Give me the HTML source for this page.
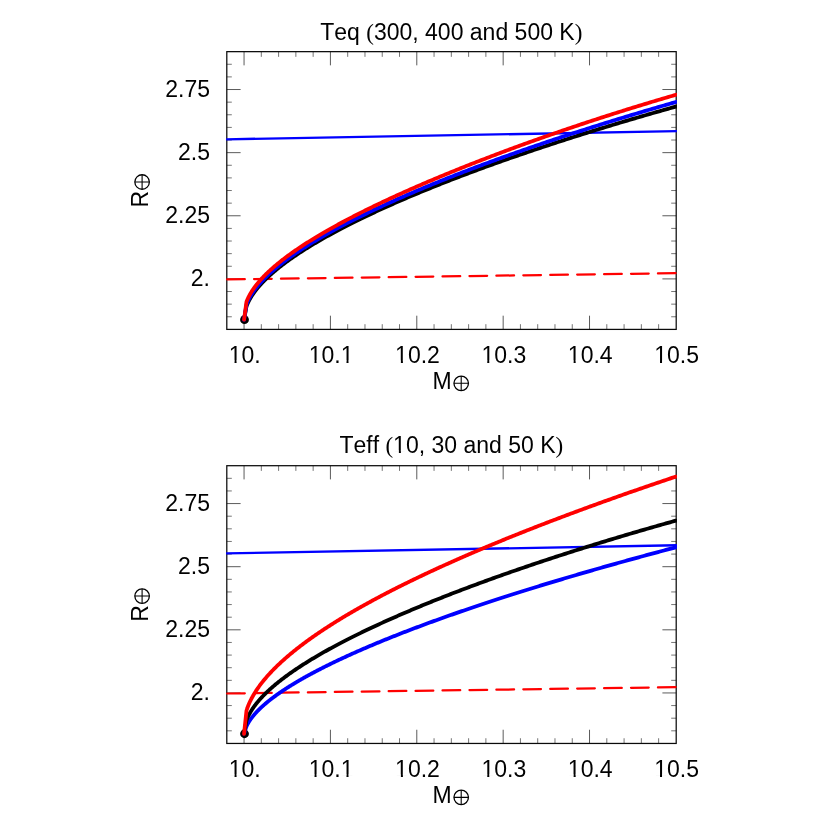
<!DOCTYPE html>
<html><head><meta charset="utf-8"><title>Chart</title>
<style>html,body{margin:0;padding:0;background:#fff;width:830px;height:830px;overflow:hidden;}svg{display:block;position:absolute;left:0;top:0;}</style></head><body>
<svg width="830" height="830" viewBox="0 0 830 830">
<rect width="830" height="830" fill="#fff"/>
<g transform="translate(0,0.00)">
<clipPath id="ca"><rect x="226.10" y="51.65" width="450.80" height="277.75"/></clipPath>
<path d="M244.05 329.40 v-13.70 M244.05 51.65 v13.70 M330.42 329.40 v-13.70 M330.42 51.65 v13.70 M416.79 329.40 v-13.70 M416.79 51.65 v13.70 M503.16 329.40 v-13.70 M503.16 51.65 v13.70 M589.53 329.40 v-13.70 M589.53 51.65 v13.70 M226.80 278.90 h13.80 M676.20 278.90 h-13.80 M226.80 215.77 h13.80 M676.20 215.77 h-13.80 M226.80 152.65 h13.80 M676.20 152.65 h-13.80 M226.80 89.52 h13.80 M676.20 89.52 h-13.80" stroke="#000" stroke-width="0.65" fill="none"/>
<path d="M261.32 329.40 v-5.20 M261.32 51.65 v5.20 M278.60 329.40 v-5.20 M278.60 51.65 v5.20 M295.87 329.40 v-5.20 M295.87 51.65 v5.20 M313.15 329.40 v-5.20 M313.15 51.65 v5.20 M347.69 329.40 v-5.20 M347.69 51.65 v5.20 M364.97 329.40 v-5.20 M364.97 51.65 v5.20 M382.24 329.40 v-5.20 M382.24 51.65 v5.20 M399.52 329.40 v-5.20 M399.52 51.65 v5.20 M434.06 329.40 v-5.20 M434.06 51.65 v5.20 M451.34 329.40 v-5.20 M451.34 51.65 v5.20 M468.61 329.40 v-5.20 M468.61 51.65 v5.20 M485.89 329.40 v-5.20 M485.89 51.65 v5.20 M520.43 329.40 v-5.20 M520.43 51.65 v5.20 M537.71 329.40 v-5.20 M537.71 51.65 v5.20 M554.98 329.40 v-5.20 M554.98 51.65 v5.20 M572.26 329.40 v-5.20 M572.26 51.65 v5.20 M606.80 329.40 v-5.20 M606.80 51.65 v5.20 M624.08 329.40 v-5.20 M624.08 51.65 v5.20 M641.35 329.40 v-5.20 M641.35 51.65 v5.20 M658.63 329.40 v-5.20 M658.63 51.65 v5.20 M226.80 316.77 h5.00 M676.20 316.77 h-5.00 M226.80 304.15 h5.00 M676.20 304.15 h-5.00 M226.80 291.52 h5.00 M676.20 291.52 h-5.00 M226.80 266.28 h5.00 M676.20 266.28 h-5.00 M226.80 253.65 h5.00 M676.20 253.65 h-5.00 M226.80 241.03 h5.00 M676.20 241.03 h-5.00 M226.80 228.40 h5.00 M676.20 228.40 h-5.00 M226.80 203.15 h5.00 M676.20 203.15 h-5.00 M226.80 190.52 h5.00 M676.20 190.52 h-5.00 M226.80 177.90 h5.00 M676.20 177.90 h-5.00 M226.80 165.27 h5.00 M676.20 165.27 h-5.00 M226.80 140.03 h5.00 M676.20 140.03 h-5.00 M226.80 127.40 h5.00 M676.20 127.40 h-5.00 M226.80 114.77 h5.00 M676.20 114.77 h-5.00 M226.80 102.15 h5.00 M676.20 102.15 h-5.00 M226.80 76.90 h5.00 M676.20 76.90 h-5.00 M226.80 64.27 h5.00 M676.20 64.27 h-5.00" stroke="#000" stroke-width="0.55" fill="none"/>
<rect x="226.80" y="51.65" width="449.40" height="277.75" fill="none" stroke="#0a0a0a" stroke-width="1.25"/>
<g clip-path="url(#ca)" fill="none">
<line x1="226.00" y1="139.30" x2="677.20" y2="131.20" stroke="#0000ff" stroke-width="2.3"/>
<line x1="227.10" y1="279.45" x2="677.20" y2="273.15" stroke="#ff0000" stroke-width="2.25" stroke-linecap="round" stroke-dasharray="17.7 9.23" stroke-dashoffset="0"/>
<circle cx="244.50" cy="319.70" r="4.4" fill="#000"/>
<polyline points="244.05,319.70 246.47,306.37 246.62,305.97 246.78,305.56 246.94,305.16 247.10,304.75 247.28,304.34 247.45,303.93 247.63,303.52 247.82,303.11 248.01,302.70 248.20,302.29 248.40,301.88 248.60,301.47 248.81,301.06 249.02,300.65 249.24,300.23 249.46,299.82 249.69,299.41 249.92,298.99 250.15,298.58 250.39,298.16 250.64,297.75 250.89,297.33 251.14,296.91 251.40,296.50 251.67,296.08 251.93,295.66 252.21,295.24 252.48,294.82 252.77,294.40 253.05,293.98 253.35,293.56 253.64,293.14 253.94,292.72 254.25,292.29 254.56,291.87 254.87,291.45 255.19,291.02 255.52,290.60 255.84,290.17 256.18,289.75 256.52,289.32 256.86,288.89 257.21,288.47 257.56,288.04 257.91,287.61 258.28,287.18 258.64,286.75 259.01,286.32 259.39,285.89 259.77,285.46 260.15,285.03 260.54,284.60 260.93,284.16 261.33,283.73 261.73,283.30 262.14,282.86 262.55,282.43 262.97,281.99 263.39,281.56 263.82,281.12 264.25,280.68 264.69,280.24 265.13,279.81 265.57,279.37 266.02,278.93 266.47,278.49 266.93,278.05 267.40,277.61 267.86,277.17 268.34,276.73 268.81,276.28 269.30,275.84 269.78,275.40 270.27,274.95 270.77,274.51 271.27,274.06 271.77,273.62 272.28,273.17 272.80,272.72 273.32,272.28 273.84,271.83 274.37,271.38 274.90,270.93 275.44,270.48 275.98,270.03 276.53,269.58 277.08,269.13 277.64,268.68 278.20,268.23 278.76,267.77 279.33,267.32 279.91,266.87 280.49,266.41 281.07,265.96 281.66,265.50 282.25,265.05 282.85,264.59 283.45,264.13 284.06,263.68 284.67,263.22 285.29,262.76 285.91,262.30 286.54,261.84 287.17,261.38 287.80,260.92 288.44,260.46 289.09,260.00 289.74,259.53 290.39,259.07 291.05,258.61 291.71,258.14 292.38,257.68 293.05,257.21 293.73,256.75 294.41,256.28 295.10,255.81 295.79,255.35 296.48,254.88 297.18,254.41 297.89,253.94 298.60,253.47 299.31,253.00 300.03,252.53 300.75,252.06 301.48,251.59 302.21,251.11 302.95,250.64 303.69,250.17 304.44,249.69 305.19,249.22 305.95,248.75 306.71,248.27 307.47,247.79 308.24,247.32 309.02,246.84 309.79,246.36 310.58,245.88 311.37,245.41 312.16,244.93 312.96,244.45 313.76,243.97 314.57,243.49 315.38,243.00 316.19,242.52 317.02,242.04 317.84,241.56 318.67,241.07 319.51,240.59 320.35,240.11 321.19,239.62 322.04,239.13 322.89,238.65 323.75,238.16 324.61,237.67 325.48,237.19 326.35,236.70 327.23,236.21 328.11,235.72 328.99,235.23 329.89,234.74 330.78,234.25 331.68,233.76 332.58,233.27 333.49,232.77 334.41,232.28 335.33,231.79 336.25,231.29 337.18,230.80 338.11,230.31 339.05,229.81 339.99,229.31 340.93,228.82 341.88,228.32 342.84,227.82 343.80,227.33 344.77,226.83 345.73,226.33 346.71,225.83 347.69,225.33 348.67,224.83 349.66,224.33 350.65,223.83 351.65,223.32 352.65,222.82 353.66,222.32 354.67,221.82 355.68,221.31 356.71,220.81 357.73,220.30 358.76,219.80 359.79,219.29 360.83,218.79 361.88,218.28 362.93,217.77 363.98,217.26 365.04,216.76 366.10,216.25 367.17,215.74 368.24,215.23 369.31,214.72 370.40,214.21 371.48,213.70 372.57,213.19 373.67,212.67 374.77,212.16 375.87,211.65 376.98,211.13 378.09,210.62 379.21,210.11 380.33,209.59 381.46,209.08 382.59,208.56 383.73,208.05 384.87,207.53 386.02,207.01 387.17,206.49 388.32,205.98 389.48,205.46 390.65,204.94 391.81,204.42 392.99,203.90 394.17,203.38 395.35,202.86 396.54,202.34 397.73,201.82 398.93,201.30 400.13,200.77 401.34,200.25 402.55,199.73 403.76,199.20 404.98,198.68 406.21,198.16 407.44,197.63 408.67,197.11 409.91,196.58 411.15,196.05 412.40,195.53 413.65,195.00 414.91,194.47 416.17,193.95 417.44,193.42 418.71,192.89 419.99,192.36 421.27,191.83 422.55,191.30 423.84,190.77 425.14,190.24 426.44,189.71 427.74,189.18 429.05,188.65 430.36,188.12 431.68,187.58 433.00,187.05 434.33,186.52 435.66,185.98 437.00,185.45 438.34,184.92 439.68,184.38 441.03,183.85 442.39,183.31 443.75,182.78 445.11,182.24 446.48,181.70 447.85,181.17 449.23,180.63 450.62,180.09 452.00,179.55 453.39,179.02 454.79,178.48 456.19,177.94 457.60,177.40 459.01,176.86 460.42,176.32 461.84,175.78 463.27,175.24 464.70,174.70 466.13,174.16 467.57,173.62 469.01,173.07 470.46,172.53 471.91,171.99 473.37,171.45 474.83,170.90 476.30,170.36 477.77,169.82 479.25,169.27 480.73,168.73 482.21,168.18 483.70,167.64 485.19,167.09 486.69,166.55 488.20,166.00 489.70,165.46 491.22,164.91 492.73,164.36 494.26,163.82 495.78,163.27 497.31,162.72 498.85,162.18 500.39,161.63 501.94,161.08 503.49,160.53 505.04,159.98 506.60,159.43 508.16,158.88 509.73,158.33 511.31,157.78 512.88,157.23 514.47,156.68 516.05,156.13 517.64,155.58 519.24,155.03 520.84,154.48 522.45,153.93 524.06,153.38 525.67,152.83 527.29,152.28 528.92,151.72 530.55,151.17 532.18,150.62 533.82,150.07 535.46,149.51 537.11,148.96 538.76,148.41 540.42,147.85 542.08,147.30 543.74,146.74 545.41,146.19 547.09,145.64 548.77,145.08 550.45,144.53 552.14,143.97 553.84,143.42 555.54,142.86 557.24,142.31 558.95,141.75 560.66,141.19 562.38,140.64 564.10,140.08 565.82,139.53 567.56,138.97 569.29,138.41 571.03,137.86 572.78,137.30 574.53,136.74 576.28,136.19 578.04,135.63 579.80,135.07 581.57,134.52 583.34,133.96 585.12,133.40 586.90,132.84 588.69,132.29 590.48,131.73 592.28,131.17 594.08,130.61 595.88,130.05 597.69,129.50 599.51,128.94 601.33,128.38 603.15,127.82 604.98,127.26 606.81,126.70 608.65,126.14 610.49,125.59 612.34,125.03 614.19,124.47 616.05,123.91 617.91,123.35 619.78,122.79 621.65,122.23 623.52,121.67 625.40,121.12 627.28,120.56 629.17,120.00 631.07,119.44 632.96,118.88 634.87,118.32 636.78,117.76 638.69,117.20 640.60,116.64 642.53,116.08 644.45,115.52 646.38,114.97 648.32,114.41 650.26,113.85 652.20,113.29 654.15,112.73 656.11,112.17 658.06,111.61 660.03,111.05 662.00,110.49 663.97,109.93 665.94,109.38 667.93,108.82 669.91,108.26 671.90,107.70 673.90,107.14 675.90,106.58" stroke="#000000" stroke-width="3.8" stroke-linejoin="round" stroke-linecap="round"/>
<polyline points="244.05,319.70 246.47,304.59 246.62,304.18 246.78,303.78 246.94,303.37 247.10,302.96 247.28,302.55 247.45,302.14 247.63,301.73 247.82,301.32 248.01,300.91 248.20,300.50 248.40,300.09 248.60,299.67 248.81,299.26 249.02,298.85 249.24,298.43 249.46,298.02 249.69,297.60 249.92,297.19 250.15,296.77 250.39,296.35 250.64,295.94 250.89,295.52 251.14,295.10 251.40,294.68 251.67,294.26 251.93,293.84 252.21,293.42 252.48,293.00 252.77,292.58 253.05,292.15 253.35,291.73 253.64,291.31 253.94,290.88 254.25,290.46 254.56,290.03 254.87,289.61 255.19,289.18 255.52,288.76 255.84,288.33 256.18,287.90 256.52,287.47 256.86,287.04 257.21,286.61 257.56,286.18 257.91,285.75 258.28,285.32 258.64,284.89 259.01,284.46 259.39,284.02 259.77,283.59 260.15,283.16 260.54,282.72 260.93,282.29 261.33,281.85 261.73,281.41 262.14,280.98 262.55,280.54 262.97,280.10 263.39,279.66 263.82,279.22 264.25,278.78 264.69,278.34 265.13,277.90 265.57,277.46 266.02,277.02 266.47,276.58 266.93,276.13 267.40,275.69 267.86,275.25 268.34,274.80 268.81,274.36 269.30,273.91 269.78,273.46 270.27,273.02 270.77,272.57 271.27,272.12 271.77,271.67 272.28,271.22 272.80,270.77 273.32,270.32 273.84,269.87 274.37,269.42 274.90,268.97 275.44,268.51 275.98,268.06 276.53,267.61 277.08,267.15 277.64,266.70 278.20,266.24 278.76,265.78 279.33,265.33 279.91,264.87 280.49,264.41 281.07,263.95 281.66,263.49 282.25,263.03 282.85,262.57 283.45,262.11 284.06,261.65 284.67,261.19 285.29,260.73 285.91,260.26 286.54,259.80 287.17,259.34 287.80,258.87 288.44,258.40 289.09,257.94 289.74,257.47 290.39,257.00 291.05,256.54 291.71,256.07 292.38,255.60 293.05,255.13 293.73,254.66 294.41,254.19 295.10,253.72 295.79,253.25 296.48,252.77 297.18,252.30 297.89,251.83 298.60,251.35 299.31,250.88 300.03,250.40 300.75,249.93 301.48,249.45 302.21,248.97 302.95,248.50 303.69,248.02 304.44,247.54 305.19,247.06 305.95,246.58 306.71,246.10 307.47,245.62 308.24,245.14 309.02,244.66 309.79,244.17 310.58,243.69 311.37,243.21 312.16,242.72 312.96,242.24 313.76,241.75 314.57,241.26 315.38,240.78 316.19,240.29 317.02,239.80 317.84,239.32 318.67,238.83 319.51,238.34 320.35,237.85 321.19,237.36 322.04,236.87 322.89,236.37 323.75,235.88 324.61,235.39 325.48,234.90 326.35,234.40 327.23,233.91 328.11,233.41 328.99,232.92 329.89,232.42 330.78,231.92 331.68,231.43 332.58,230.93 333.49,230.43 334.41,229.93 335.33,229.43 336.25,228.93 337.18,228.43 338.11,227.93 339.05,227.43 339.99,226.93 340.93,226.43 341.88,225.92 342.84,225.42 343.80,224.92 344.77,224.41 345.73,223.91 346.71,223.40 347.69,222.90 348.67,222.39 349.66,221.88 350.65,221.37 351.65,220.87 352.65,220.36 353.66,219.85 354.67,219.34 355.68,218.83 356.71,218.32 357.73,217.80 358.76,217.29 359.79,216.78 360.83,216.27 361.88,215.75 362.93,215.24 363.98,214.73 365.04,214.21 366.10,213.69 367.17,213.18 368.24,212.66 369.31,212.15 370.40,211.63 371.48,211.11 372.57,210.59 373.67,210.07 374.77,209.55 375.87,209.03 376.98,208.51 378.09,207.99 379.21,207.47 380.33,206.95 381.46,206.43 382.59,205.90 383.73,205.38 384.87,204.86 386.02,204.33 387.17,203.81 388.32,203.28 389.48,202.76 390.65,202.23 391.81,201.70 392.99,201.18 394.17,200.65 395.35,200.12 396.54,199.59 397.73,199.06 398.93,198.53 400.13,198.00 401.34,197.47 402.55,196.94 403.76,196.41 404.98,195.88 406.21,195.35 407.44,194.81 408.67,194.28 409.91,193.75 411.15,193.21 412.40,192.68 413.65,192.14 414.91,191.61 416.17,191.07 417.44,190.54 418.71,190.00 419.99,189.46 421.27,188.92 422.55,188.39 423.84,187.85 425.14,187.31 426.44,186.77 427.74,186.23 429.05,185.69 430.36,185.15 431.68,184.61 433.00,184.07 434.33,183.53 435.66,182.98 437.00,182.44 438.34,181.90 439.68,181.36 441.03,180.81 442.39,180.27 443.75,179.72 445.11,179.18 446.48,178.63 447.85,178.09 449.23,177.54 450.62,177.00 452.00,176.45 453.39,175.90 454.79,175.35 456.19,174.81 457.60,174.26 459.01,173.71 460.42,173.16 461.84,172.61 463.27,172.06 464.70,171.51 466.13,170.96 467.57,170.41 469.01,169.86 470.46,169.31 471.91,168.76 473.37,168.20 474.83,167.65 476.30,167.10 477.77,166.55 479.25,165.99 480.73,165.44 482.21,164.88 483.70,164.33 485.19,163.78 486.69,163.22 488.20,162.67 489.70,162.11 491.22,161.55 492.73,161.00 494.26,160.44 495.78,159.88 497.31,159.33 498.85,158.77 500.39,158.21 501.94,157.65 503.49,157.09 505.04,156.54 506.60,155.98 508.16,155.42 509.73,154.86 511.31,154.30 512.88,153.74 514.47,153.18 516.05,152.62 517.64,152.06 519.24,151.50 520.84,150.93 522.45,150.37 524.06,149.81 525.67,149.25 527.29,148.69 528.92,148.12 530.55,147.56 532.18,147.00 533.82,146.43 535.46,145.87 537.11,145.31 538.76,144.74 540.42,144.18 542.08,143.61 543.74,143.05 545.41,142.48 547.09,141.92 548.77,141.35 550.45,140.79 552.14,140.22 553.84,139.66 555.54,139.09 557.24,138.52 558.95,137.96 560.66,137.39 562.38,136.82 564.10,136.26 565.82,135.69 567.56,135.12 569.29,134.55 571.03,133.99 572.78,133.42 574.53,132.85 576.28,132.28 578.04,131.71 579.80,131.15 581.57,130.58 583.34,130.01 585.12,129.44 586.90,128.87 588.69,128.30 590.48,127.73 592.28,127.16 594.08,126.59 595.88,126.02 597.69,125.45 599.51,124.88 601.33,124.31 603.15,123.74 604.98,123.17 606.81,122.60 608.65,122.03 610.49,121.46 612.34,120.89 614.19,120.32 616.05,119.75 617.91,119.18 619.78,118.61 621.65,118.04 623.52,117.47 625.40,116.89 627.28,116.32 629.17,115.75 631.07,115.18 632.96,114.61 634.87,114.04 636.78,113.47 638.69,112.90 640.60,112.32 642.53,111.75 644.45,111.18 646.38,110.61 648.32,110.04 650.26,109.47 652.20,108.90 654.15,108.32 656.11,107.75 658.06,107.18 660.03,106.61 662.00,106.04 663.97,105.47 665.94,104.89 667.93,104.32 669.91,103.75 671.90,103.18 673.90,102.61 675.90,102.04" stroke="#0000ff" stroke-width="3.8" stroke-linejoin="round" stroke-linecap="round"/>
<polyline points="244.05,319.70 246.47,301.86 246.62,301.45 246.78,301.04 246.94,300.63 247.10,300.23 247.28,299.82 247.45,299.41 247.63,299.00 247.82,298.59 248.01,298.18 248.20,297.76 248.40,297.35 248.60,296.94 248.81,296.52 249.02,296.11 249.24,295.69 249.46,295.28 249.69,294.86 249.92,294.45 250.15,294.03 250.39,293.61 250.64,293.19 250.89,292.77 251.14,292.35 251.40,291.93 251.67,291.51 251.93,291.09 252.21,290.67 252.48,290.24 252.77,289.82 253.05,289.40 253.35,288.97 253.64,288.55 253.94,288.12 254.25,287.69 254.56,287.27 254.87,286.84 255.19,286.41 255.52,285.98 255.84,285.55 256.18,285.12 256.52,284.69 256.86,284.26 257.21,283.83 257.56,283.40 257.91,282.96 258.28,282.53 258.64,282.09 259.01,281.66 259.39,281.22 259.77,280.79 260.15,280.35 260.54,279.91 260.93,279.48 261.33,279.04 261.73,278.60 262.14,278.16 262.55,277.72 262.97,277.28 263.39,276.84 263.82,276.39 264.25,275.95 264.69,275.51 265.13,275.06 265.57,274.62 266.02,274.17 266.47,273.73 266.93,273.28 267.40,272.84 267.86,272.39 268.34,271.94 268.81,271.49 269.30,271.04 269.78,270.59 270.27,270.14 270.77,269.69 271.27,269.24 271.77,268.79 272.28,268.33 272.80,267.88 273.32,267.42 273.84,266.97 274.37,266.51 274.90,266.06 275.44,265.60 275.98,265.14 276.53,264.69 277.08,264.23 277.64,263.77 278.20,263.31 278.76,262.85 279.33,262.39 279.91,261.93 280.49,261.46 281.07,261.00 281.66,260.54 282.25,260.07 282.85,259.61 283.45,259.14 284.06,258.68 284.67,258.21 285.29,257.74 285.91,257.28 286.54,256.81 287.17,256.34 287.80,255.87 288.44,255.40 289.09,254.93 289.74,254.46 290.39,253.99 291.05,253.51 291.71,253.04 292.38,252.57 293.05,252.09 293.73,251.62 294.41,251.14 295.10,250.66 295.79,250.19 296.48,249.71 297.18,249.23 297.89,248.75 298.60,248.27 299.31,247.79 300.03,247.31 300.75,246.83 301.48,246.35 302.21,245.87 302.95,245.38 303.69,244.90 304.44,244.42 305.19,243.93 305.95,243.45 306.71,242.96 307.47,242.47 308.24,241.99 309.02,241.50 309.79,241.01 310.58,240.52 311.37,240.03 312.16,239.54 312.96,239.05 313.76,238.56 314.57,238.06 315.38,237.57 316.19,237.08 317.02,236.58 317.84,236.09 318.67,235.59 319.51,235.10 320.35,234.60 321.19,234.10 322.04,233.61 322.89,233.11 323.75,232.61 324.61,232.11 325.48,231.61 326.35,231.11 327.23,230.60 328.11,230.10 328.99,229.60 329.89,229.10 330.78,228.59 331.68,228.09 332.58,227.58 333.49,227.08 334.41,226.57 335.33,226.06 336.25,225.55 337.18,225.05 338.11,224.54 339.05,224.03 339.99,223.52 340.93,223.01 341.88,222.49 342.84,221.98 343.80,221.47 344.77,220.96 345.73,220.44 346.71,219.93 347.69,219.41 348.67,218.90 349.66,218.38 350.65,217.86 351.65,217.35 352.65,216.83 353.66,216.31 354.67,215.79 355.68,215.27 356.71,214.75 357.73,214.23 358.76,213.70 359.79,213.18 360.83,212.66 361.88,212.13 362.93,211.61 363.98,211.09 365.04,210.56 366.10,210.03 367.17,209.51 368.24,208.98 369.31,208.45 370.40,207.92 371.48,207.39 372.57,206.86 373.67,206.33 374.77,205.80 375.87,205.27 376.98,204.74 378.09,204.21 379.21,203.67 380.33,203.14 381.46,202.60 382.59,202.07 383.73,201.53 384.87,201.00 386.02,200.46 387.17,199.92 388.32,199.38 389.48,198.85 390.65,198.31 391.81,197.77 392.99,197.23 394.17,196.69 395.35,196.14 396.54,195.60 397.73,195.06 398.93,194.52 400.13,193.97 401.34,193.43 402.55,192.88 403.76,192.34 404.98,191.79 406.21,191.24 407.44,190.70 408.67,190.15 409.91,189.60 411.15,189.05 412.40,188.50 413.65,187.95 414.91,187.40 416.17,186.85 417.44,186.30 418.71,185.75 419.99,185.19 421.27,184.64 422.55,184.09 423.84,183.53 425.14,182.98 426.44,182.42 427.74,181.87 429.05,181.31 430.36,180.75 431.68,180.19 433.00,179.64 434.33,179.08 435.66,178.52 437.00,177.96 438.34,177.40 439.68,176.84 441.03,176.28 442.39,175.72 443.75,175.15 445.11,174.59 446.48,174.03 447.85,173.46 449.23,172.90 450.62,172.34 452.00,171.77 453.39,171.20 454.79,170.64 456.19,170.07 457.60,169.50 459.01,168.94 460.42,168.37 461.84,167.80 463.27,167.23 464.70,166.66 466.13,166.09 467.57,165.52 469.01,164.95 470.46,164.38 471.91,163.81 473.37,163.24 474.83,162.67 476.30,162.09 477.77,161.52 479.25,160.95 480.73,160.37 482.21,159.80 483.70,159.22 485.19,158.65 486.69,158.07 488.20,157.50 489.70,156.92 491.22,156.34 492.73,155.76 494.26,155.19 495.78,154.61 497.31,154.03 498.85,153.45 500.39,152.87 501.94,152.29 503.49,151.71 505.04,151.13 506.60,150.55 508.16,149.97 509.73,149.39 511.31,148.81 512.88,148.23 514.47,147.65 516.05,147.06 517.64,146.48 519.24,145.90 520.84,145.31 522.45,144.73 524.06,144.15 525.67,143.56 527.29,142.98 528.92,142.39 530.55,141.81 532.18,141.22 533.82,140.64 535.46,140.05 537.11,139.47 538.76,138.88 540.42,138.29 542.08,137.71 543.74,137.12 545.41,136.53 547.09,135.95 548.77,135.36 550.45,134.77 552.14,134.18 553.84,133.60 555.54,133.01 557.24,132.42 558.95,131.83 560.66,131.24 562.38,130.65 564.10,130.06 565.82,129.47 567.56,128.89 569.29,128.30 571.03,127.71 572.78,127.12 574.53,126.53 576.28,125.94 578.04,125.35 579.80,124.76 581.57,124.17 583.34,123.58 585.12,122.99 586.90,122.40 588.69,121.81 590.48,121.22 592.28,120.63 594.08,120.04 595.88,119.45 597.69,118.86 599.51,118.27 601.33,117.68 603.15,117.09 604.98,116.50 606.81,115.91 608.65,115.32 610.49,114.73 612.34,114.14 614.19,113.55 616.05,112.96 617.91,112.37 619.78,111.78 621.65,111.20 623.52,110.61 625.40,110.02 627.28,109.43 629.17,108.84 631.07,108.25 632.96,107.67 634.87,107.08 636.78,106.49 638.69,105.90 640.60,105.32 642.53,104.73 644.45,104.14 646.38,103.56 648.32,102.97 650.26,102.38 652.20,101.80 654.15,101.21 656.11,100.63 658.06,100.04 660.03,99.46 662.00,98.88 663.97,98.29 665.94,97.71 667.93,97.13 669.91,96.55 671.90,95.96 673.90,95.38 675.90,94.80" stroke="#ff0000" stroke-width="3.8" stroke-linejoin="round" stroke-linecap="round"/>
</g>
<g opacity="0.999" style="font-kerning:none" font-family="'Liberation Sans', sans-serif" font-size="23" fill="#000">
<text x="210.00" y="96.62" text-anchor="end">2.75</text>
<text x="210.00" y="159.75" text-anchor="end">2.5</text>
<text x="210.00" y="222.87" text-anchor="end">2.25</text>
<text x="210.00" y="286.00" text-anchor="end">2.</text>
<text x="244.75" y="363.30" text-anchor="middle">10.</text>
<text x="331.12" y="363.30" text-anchor="middle">10.1</text>
<text x="417.49" y="363.30" text-anchor="middle">10.2</text>
<text x="503.86" y="363.30" text-anchor="middle">10.3</text>
<text x="590.23" y="363.30" text-anchor="middle">10.4</text>
<text x="676.60" y="363.30" text-anchor="middle">10.5</text>
<text x="451.30" y="39.60" text-anchor="middle">Teq <tspan font-family="'Liberation Serif', serif">(</tspan>300, 400 and 500 K<tspan font-family="'Liberation Serif', serif">)</tspan></text>
<text x="432.60" y="389.20">M</text>
<g stroke="#000" fill="none"><circle cx="461.20" cy="383.30" r="7.25" stroke-width="1.3"/><path d="M453.95 383.30 h14.50 M461.20 376.05 v14.50" stroke-width="1.1"/></g>
<text transform="translate(148.00,207.60) rotate(-90)">R</text>
<g stroke="#000" fill="none"><circle cx="142.10" cy="182.00" r="7.25" stroke-width="1.3"/><path d="M134.85 182.00 h14.50 M142.10 174.75 v14.50" stroke-width="1.1"/></g>
</g>
<path d="M229.31 360.58H234.54V364.30H229.31Z M236.57 360.58H241.63V364.30H236.57Z" fill="#fff"/><path d="M309.29 360.58H314.52V364.30H309.29Z M316.55 360.58H321.61V364.30H316.55Z" fill="#fff"/><path d="M341.26 360.58H346.49V364.30H341.26Z M348.52 360.58H353.57V364.30H348.52Z" fill="#fff"/><path d="M395.66 360.58H400.89V364.30H395.66Z M402.92 360.58H407.98V364.30H402.92Z" fill="#fff"/><path d="M482.03 360.58H487.26V364.30H482.03Z M489.29 360.58H494.35V364.30H489.29Z" fill="#fff"/><path d="M568.40 360.58H573.63V364.30H568.40Z M575.66 360.58H580.72V364.30H575.66Z" fill="#fff"/><path d="M654.77 360.58H660.00V364.30H654.77Z M662.03 360.58H667.09V364.30H662.03Z" fill="#fff"/>
</g>
<g transform="translate(0,414.05)">
<clipPath id="cb"><rect x="226.10" y="51.65" width="450.80" height="277.75"/></clipPath>
<path d="M244.05 329.40 v-13.70 M244.05 51.65 v13.70 M330.42 329.40 v-13.70 M330.42 51.65 v13.70 M416.79 329.40 v-13.70 M416.79 51.65 v13.70 M503.16 329.40 v-13.70 M503.16 51.65 v13.70 M589.53 329.40 v-13.70 M589.53 51.65 v13.70 M226.80 278.90 h13.80 M676.20 278.90 h-13.80 M226.80 215.77 h13.80 M676.20 215.77 h-13.80 M226.80 152.65 h13.80 M676.20 152.65 h-13.80 M226.80 89.52 h13.80 M676.20 89.52 h-13.80" stroke="#000" stroke-width="0.65" fill="none"/>
<path d="M261.32 329.40 v-5.20 M261.32 51.65 v5.20 M278.60 329.40 v-5.20 M278.60 51.65 v5.20 M295.87 329.40 v-5.20 M295.87 51.65 v5.20 M313.15 329.40 v-5.20 M313.15 51.65 v5.20 M347.69 329.40 v-5.20 M347.69 51.65 v5.20 M364.97 329.40 v-5.20 M364.97 51.65 v5.20 M382.24 329.40 v-5.20 M382.24 51.65 v5.20 M399.52 329.40 v-5.20 M399.52 51.65 v5.20 M434.06 329.40 v-5.20 M434.06 51.65 v5.20 M451.34 329.40 v-5.20 M451.34 51.65 v5.20 M468.61 329.40 v-5.20 M468.61 51.65 v5.20 M485.89 329.40 v-5.20 M485.89 51.65 v5.20 M520.43 329.40 v-5.20 M520.43 51.65 v5.20 M537.71 329.40 v-5.20 M537.71 51.65 v5.20 M554.98 329.40 v-5.20 M554.98 51.65 v5.20 M572.26 329.40 v-5.20 M572.26 51.65 v5.20 M606.80 329.40 v-5.20 M606.80 51.65 v5.20 M624.08 329.40 v-5.20 M624.08 51.65 v5.20 M641.35 329.40 v-5.20 M641.35 51.65 v5.20 M658.63 329.40 v-5.20 M658.63 51.65 v5.20 M226.80 316.77 h5.00 M676.20 316.77 h-5.00 M226.80 304.15 h5.00 M676.20 304.15 h-5.00 M226.80 291.52 h5.00 M676.20 291.52 h-5.00 M226.80 266.28 h5.00 M676.20 266.28 h-5.00 M226.80 253.65 h5.00 M676.20 253.65 h-5.00 M226.80 241.03 h5.00 M676.20 241.03 h-5.00 M226.80 228.40 h5.00 M676.20 228.40 h-5.00 M226.80 203.15 h5.00 M676.20 203.15 h-5.00 M226.80 190.52 h5.00 M676.20 190.52 h-5.00 M226.80 177.90 h5.00 M676.20 177.90 h-5.00 M226.80 165.27 h5.00 M676.20 165.27 h-5.00 M226.80 140.03 h5.00 M676.20 140.03 h-5.00 M226.80 127.40 h5.00 M676.20 127.40 h-5.00 M226.80 114.77 h5.00 M676.20 114.77 h-5.00 M226.80 102.15 h5.00 M676.20 102.15 h-5.00 M226.80 76.90 h5.00 M676.20 76.90 h-5.00 M226.80 64.27 h5.00 M676.20 64.27 h-5.00" stroke="#000" stroke-width="0.55" fill="none"/>
<rect x="226.80" y="51.65" width="449.40" height="277.75" fill="none" stroke="#0a0a0a" stroke-width="1.25"/>
<g clip-path="url(#cb)" fill="none">
<line x1="226.00" y1="139.30" x2="677.20" y2="131.20" stroke="#0000ff" stroke-width="2.3"/>
<line x1="227.10" y1="279.45" x2="677.20" y2="273.15" stroke="#ff0000" stroke-width="2.25" stroke-linecap="round" stroke-dasharray="17.7 9.23" stroke-dashoffset="0"/>
<circle cx="244.50" cy="319.70" r="4.4" fill="#000"/>
<polyline points="244.05,319.70 246.47,312.39 246.62,312.06 246.78,311.72 246.94,311.38 247.10,311.05 247.28,310.71 247.45,310.37 247.63,310.03 247.82,309.69 248.01,309.35 248.20,309.01 248.40,308.67 248.60,308.33 248.81,307.98 249.02,307.64 249.24,307.29 249.46,306.95 249.69,306.60 249.92,306.25 250.15,305.91 250.39,305.56 250.64,305.21 250.89,304.86 251.14,304.51 251.40,304.15 251.67,303.80 251.93,303.45 252.21,303.10 252.48,302.74 252.77,302.39 253.05,302.03 253.35,301.67 253.64,301.32 253.94,300.96 254.25,300.60 254.56,300.24 254.87,299.88 255.19,299.52 255.52,299.16 255.84,298.79 256.18,298.43 256.52,298.07 256.86,297.70 257.21,297.34 257.56,296.97 257.91,296.61 258.28,296.24 258.64,295.87 259.01,295.50 259.39,295.13 259.77,294.76 260.15,294.39 260.54,294.02 260.93,293.65 261.33,293.28 261.73,292.90 262.14,292.53 262.55,292.15 262.97,291.78 263.39,291.40 263.82,291.03 264.25,290.65 264.69,290.27 265.13,289.89 265.57,289.51 266.02,289.13 266.47,288.75 266.93,288.37 267.40,287.99 267.86,287.61 268.34,287.22 268.81,286.84 269.30,286.45 269.78,286.07 270.27,285.68 270.77,285.30 271.27,284.91 271.77,284.52 272.28,284.13 272.80,283.74 273.32,283.35 273.84,282.96 274.37,282.57 274.90,282.18 275.44,281.79 275.98,281.39 276.53,281.00 277.08,280.60 277.64,280.21 278.20,279.81 278.76,279.42 279.33,279.02 279.91,278.62 280.49,278.22 281.07,277.83 281.66,277.43 282.25,277.03 282.85,276.63 283.45,276.22 284.06,275.82 284.67,275.42 285.29,275.02 285.91,274.61 286.54,274.21 287.17,273.80 287.80,273.40 288.44,272.99 289.09,272.58 289.74,272.18 290.39,271.77 291.05,271.36 291.71,270.95 292.38,270.54 293.05,270.13 293.73,269.72 294.41,269.31 295.10,268.89 295.79,268.48 296.48,268.07 297.18,267.65 297.89,267.24 298.60,266.82 299.31,266.41 300.03,265.99 300.75,265.57 301.48,265.16 302.21,264.74 302.95,264.32 303.69,263.90 304.44,263.48 305.19,263.06 305.95,262.64 306.71,262.22 307.47,261.80 308.24,261.37 309.02,260.95 309.79,260.52 310.58,260.10 311.37,259.67 312.16,259.25 312.96,258.82 313.76,258.40 314.57,257.97 315.38,257.54 316.19,257.11 317.02,256.68 317.84,256.25 318.67,255.82 319.51,255.39 320.35,254.96 321.19,254.53 322.04,254.10 322.89,253.66 323.75,253.23 324.61,252.80 325.48,252.36 326.35,251.93 327.23,251.49 328.11,251.05 328.99,250.62 329.89,250.18 330.78,249.74 331.68,249.30 332.58,248.86 333.49,248.43 334.41,247.99 335.33,247.54 336.25,247.10 337.18,246.66 338.11,246.22 339.05,245.78 339.99,245.33 340.93,244.89 341.88,244.45 342.84,244.00 343.80,243.56 344.77,243.11 345.73,242.66 346.71,242.22 347.69,241.77 348.67,241.32 349.66,240.87 350.65,240.42 351.65,239.97 352.65,239.52 353.66,239.07 354.67,238.62 355.68,238.17 356.71,237.72 357.73,237.27 358.76,236.81 359.79,236.36 360.83,235.91 361.88,235.45 362.93,235.00 363.98,234.54 365.04,234.09 366.10,233.63 367.17,233.17 368.24,232.72 369.31,232.26 370.40,231.80 371.48,231.34 372.57,230.88 373.67,230.42 374.77,229.96 375.87,229.50 376.98,229.04 378.09,228.58 379.21,228.12 380.33,227.65 381.46,227.19 382.59,226.73 383.73,226.26 384.87,225.80 386.02,225.33 387.17,224.87 388.32,224.40 389.48,223.94 390.65,223.47 391.81,223.00 392.99,222.53 394.17,222.07 395.35,221.60 396.54,221.13 397.73,220.66 398.93,220.19 400.13,219.72 401.34,219.25 402.55,218.78 403.76,218.30 404.98,217.83 406.21,217.36 407.44,216.89 408.67,216.41 409.91,215.94 411.15,215.46 412.40,214.99 413.65,214.51 414.91,214.04 416.17,213.56 417.44,213.08 418.71,212.61 419.99,212.13 421.27,211.65 422.55,211.17 423.84,210.69 425.14,210.22 426.44,209.74 427.74,209.26 429.05,208.78 430.36,208.29 431.68,207.81 433.00,207.33 434.33,206.85 435.66,206.37 437.00,205.88 438.34,205.40 439.68,204.92 441.03,204.43 442.39,203.95 443.75,203.46 445.11,202.98 446.48,202.49 447.85,202.01 449.23,201.52 450.62,201.03 452.00,200.54 453.39,200.06 454.79,199.57 456.19,199.08 457.60,198.59 459.01,198.10 460.42,197.61 461.84,197.12 463.27,196.63 464.70,196.14 466.13,195.65 467.57,195.16 469.01,194.67 470.46,194.17 471.91,193.68 473.37,193.19 474.83,192.69 476.30,192.20 477.77,191.71 479.25,191.21 480.73,190.72 482.21,190.22 483.70,189.73 485.19,189.23 486.69,188.73 488.20,188.24 489.70,187.74 491.22,187.24 492.73,186.74 494.26,186.24 495.78,185.75 497.31,185.25 498.85,184.75 500.39,184.25 501.94,183.75 503.49,183.25 505.04,182.75 506.60,182.25 508.16,181.74 509.73,181.24 511.31,180.74 512.88,180.24 514.47,179.73 516.05,179.23 517.64,178.73 519.24,178.22 520.84,177.72 522.45,177.22 524.06,176.71 525.67,176.21 527.29,175.70 528.92,175.19 530.55,174.69 532.18,174.18 533.82,173.68 535.46,173.17 537.11,172.66 538.76,172.15 540.42,171.64 542.08,171.14 543.74,170.63 545.41,170.12 547.09,169.61 548.77,169.10 550.45,168.59 552.14,168.08 553.84,167.57 555.54,167.06 557.24,166.55 558.95,166.04 560.66,165.52 562.38,165.01 564.10,164.50 565.82,163.99 567.56,163.47 569.29,162.96 571.03,162.45 572.78,161.93 574.53,161.42 576.28,160.90 578.04,160.39 579.80,159.87 581.57,159.36 583.34,158.84 585.12,158.33 586.90,157.81 588.69,157.29 590.48,156.78 592.28,156.26 594.08,155.74 595.88,155.23 597.69,154.71 599.51,154.19 601.33,153.67 603.15,153.15 604.98,152.63 606.81,152.12 608.65,151.60 610.49,151.08 612.34,150.56 614.19,150.04 616.05,149.52 617.91,148.99 619.78,148.47 621.65,147.95 623.52,147.43 625.40,146.91 627.28,146.39 629.17,145.86 631.07,145.34 632.96,144.82 634.87,144.30 636.78,143.77 638.69,143.25 640.60,142.73 642.53,142.20 644.45,141.68 646.38,141.15 648.32,140.63 650.26,140.10 652.20,139.58 654.15,139.05 656.11,138.53 658.06,138.00 660.03,137.47 662.00,136.95 663.97,136.42 665.94,135.89 667.93,135.37 669.91,134.84 671.90,134.31 673.90,133.79 675.90,133.26" stroke="#0000ff" stroke-width="3.8" stroke-linejoin="round" stroke-linecap="round"/>
<polyline points="244.05,319.70 246.47,306.37 246.62,305.97 246.78,305.56 246.94,305.16 247.10,304.75 247.28,304.34 247.45,303.93 247.63,303.52 247.82,303.11 248.01,302.70 248.20,302.29 248.40,301.88 248.60,301.47 248.81,301.06 249.02,300.65 249.24,300.23 249.46,299.82 249.69,299.41 249.92,298.99 250.15,298.58 250.39,298.16 250.64,297.75 250.89,297.33 251.14,296.91 251.40,296.50 251.67,296.08 251.93,295.66 252.21,295.24 252.48,294.82 252.77,294.40 253.05,293.98 253.35,293.56 253.64,293.14 253.94,292.72 254.25,292.29 254.56,291.87 254.87,291.45 255.19,291.02 255.52,290.60 255.84,290.17 256.18,289.75 256.52,289.32 256.86,288.89 257.21,288.47 257.56,288.04 257.91,287.61 258.28,287.18 258.64,286.75 259.01,286.32 259.39,285.89 259.77,285.46 260.15,285.03 260.54,284.60 260.93,284.16 261.33,283.73 261.73,283.30 262.14,282.86 262.55,282.43 262.97,281.99 263.39,281.56 263.82,281.12 264.25,280.68 264.69,280.24 265.13,279.81 265.57,279.37 266.02,278.93 266.47,278.49 266.93,278.05 267.40,277.61 267.86,277.17 268.34,276.73 268.81,276.28 269.30,275.84 269.78,275.40 270.27,274.95 270.77,274.51 271.27,274.06 271.77,273.62 272.28,273.17 272.80,272.72 273.32,272.28 273.84,271.83 274.37,271.38 274.90,270.93 275.44,270.48 275.98,270.03 276.53,269.58 277.08,269.13 277.64,268.68 278.20,268.23 278.76,267.77 279.33,267.32 279.91,266.87 280.49,266.41 281.07,265.96 281.66,265.50 282.25,265.05 282.85,264.59 283.45,264.13 284.06,263.68 284.67,263.22 285.29,262.76 285.91,262.30 286.54,261.84 287.17,261.38 287.80,260.92 288.44,260.46 289.09,260.00 289.74,259.53 290.39,259.07 291.05,258.61 291.71,258.14 292.38,257.68 293.05,257.21 293.73,256.75 294.41,256.28 295.10,255.81 295.79,255.35 296.48,254.88 297.18,254.41 297.89,253.94 298.60,253.47 299.31,253.00 300.03,252.53 300.75,252.06 301.48,251.59 302.21,251.11 302.95,250.64 303.69,250.17 304.44,249.69 305.19,249.22 305.95,248.75 306.71,248.27 307.47,247.79 308.24,247.32 309.02,246.84 309.79,246.36 310.58,245.88 311.37,245.41 312.16,244.93 312.96,244.45 313.76,243.97 314.57,243.49 315.38,243.00 316.19,242.52 317.02,242.04 317.84,241.56 318.67,241.07 319.51,240.59 320.35,240.11 321.19,239.62 322.04,239.13 322.89,238.65 323.75,238.16 324.61,237.67 325.48,237.19 326.35,236.70 327.23,236.21 328.11,235.72 328.99,235.23 329.89,234.74 330.78,234.25 331.68,233.76 332.58,233.27 333.49,232.77 334.41,232.28 335.33,231.79 336.25,231.29 337.18,230.80 338.11,230.31 339.05,229.81 339.99,229.31 340.93,228.82 341.88,228.32 342.84,227.82 343.80,227.33 344.77,226.83 345.73,226.33 346.71,225.83 347.69,225.33 348.67,224.83 349.66,224.33 350.65,223.83 351.65,223.32 352.65,222.82 353.66,222.32 354.67,221.82 355.68,221.31 356.71,220.81 357.73,220.30 358.76,219.80 359.79,219.29 360.83,218.79 361.88,218.28 362.93,217.77 363.98,217.26 365.04,216.76 366.10,216.25 367.17,215.74 368.24,215.23 369.31,214.72 370.40,214.21 371.48,213.70 372.57,213.19 373.67,212.67 374.77,212.16 375.87,211.65 376.98,211.13 378.09,210.62 379.21,210.11 380.33,209.59 381.46,209.08 382.59,208.56 383.73,208.05 384.87,207.53 386.02,207.01 387.17,206.49 388.32,205.98 389.48,205.46 390.65,204.94 391.81,204.42 392.99,203.90 394.17,203.38 395.35,202.86 396.54,202.34 397.73,201.82 398.93,201.30 400.13,200.77 401.34,200.25 402.55,199.73 403.76,199.20 404.98,198.68 406.21,198.16 407.44,197.63 408.67,197.11 409.91,196.58 411.15,196.05 412.40,195.53 413.65,195.00 414.91,194.47 416.17,193.95 417.44,193.42 418.71,192.89 419.99,192.36 421.27,191.83 422.55,191.30 423.84,190.77 425.14,190.24 426.44,189.71 427.74,189.18 429.05,188.65 430.36,188.12 431.68,187.58 433.00,187.05 434.33,186.52 435.66,185.98 437.00,185.45 438.34,184.92 439.68,184.38 441.03,183.85 442.39,183.31 443.75,182.78 445.11,182.24 446.48,181.70 447.85,181.17 449.23,180.63 450.62,180.09 452.00,179.55 453.39,179.02 454.79,178.48 456.19,177.94 457.60,177.40 459.01,176.86 460.42,176.32 461.84,175.78 463.27,175.24 464.70,174.70 466.13,174.16 467.57,173.62 469.01,173.07 470.46,172.53 471.91,171.99 473.37,171.45 474.83,170.90 476.30,170.36 477.77,169.82 479.25,169.27 480.73,168.73 482.21,168.18 483.70,167.64 485.19,167.09 486.69,166.55 488.20,166.00 489.70,165.46 491.22,164.91 492.73,164.36 494.26,163.82 495.78,163.27 497.31,162.72 498.85,162.18 500.39,161.63 501.94,161.08 503.49,160.53 505.04,159.98 506.60,159.43 508.16,158.88 509.73,158.33 511.31,157.78 512.88,157.23 514.47,156.68 516.05,156.13 517.64,155.58 519.24,155.03 520.84,154.48 522.45,153.93 524.06,153.38 525.67,152.83 527.29,152.28 528.92,151.72 530.55,151.17 532.18,150.62 533.82,150.07 535.46,149.51 537.11,148.96 538.76,148.41 540.42,147.85 542.08,147.30 543.74,146.74 545.41,146.19 547.09,145.64 548.77,145.08 550.45,144.53 552.14,143.97 553.84,143.42 555.54,142.86 557.24,142.31 558.95,141.75 560.66,141.19 562.38,140.64 564.10,140.08 565.82,139.53 567.56,138.97 569.29,138.41 571.03,137.86 572.78,137.30 574.53,136.74 576.28,136.19 578.04,135.63 579.80,135.07 581.57,134.52 583.34,133.96 585.12,133.40 586.90,132.84 588.69,132.29 590.48,131.73 592.28,131.17 594.08,130.61 595.88,130.05 597.69,129.50 599.51,128.94 601.33,128.38 603.15,127.82 604.98,127.26 606.81,126.70 608.65,126.14 610.49,125.59 612.34,125.03 614.19,124.47 616.05,123.91 617.91,123.35 619.78,122.79 621.65,122.23 623.52,121.67 625.40,121.12 627.28,120.56 629.17,120.00 631.07,119.44 632.96,118.88 634.87,118.32 636.78,117.76 638.69,117.20 640.60,116.64 642.53,116.08 644.45,115.52 646.38,114.97 648.32,114.41 650.26,113.85 652.20,113.29 654.15,112.73 656.11,112.17 658.06,111.61 660.03,111.05 662.00,110.49 663.97,109.93 665.94,109.38 667.93,108.82 669.91,108.26 671.90,107.70 673.90,107.14 675.90,106.58" stroke="#000000" stroke-width="3.8" stroke-linejoin="round" stroke-linecap="round"/>
<polyline points="244.05,319.70 246.47,296.68 246.62,296.19 246.78,295.70 246.94,295.20 247.10,294.71 247.28,294.22 247.45,293.72 247.63,293.23 247.82,292.73 248.01,292.23 248.20,291.74 248.40,291.24 248.60,290.74 248.81,290.24 249.02,289.74 249.24,289.24 249.46,288.74 249.69,288.24 249.92,287.74 250.15,287.24 250.39,286.74 250.64,286.24 250.89,285.73 251.14,285.23 251.40,284.72 251.67,284.22 251.93,283.71 252.21,283.21 252.48,282.70 252.77,282.20 253.05,281.69 253.35,281.18 253.64,280.67 253.94,280.16 254.25,279.65 254.56,279.14 254.87,278.63 255.19,278.12 255.52,277.61 255.84,277.10 256.18,276.59 256.52,276.07 256.86,275.56 257.21,275.05 257.56,274.53 257.91,274.02 258.28,273.50 258.64,272.99 259.01,272.47 259.39,271.95 259.77,271.43 260.15,270.92 260.54,270.40 260.93,269.88 261.33,269.36 261.73,268.84 262.14,268.32 262.55,267.80 262.97,267.27 263.39,266.75 263.82,266.23 264.25,265.71 264.69,265.18 265.13,264.66 265.57,264.13 266.02,263.61 266.47,263.08 266.93,262.56 267.40,262.03 267.86,261.50 268.34,260.98 268.81,260.45 269.30,259.92 269.78,259.39 270.27,258.86 270.77,258.33 271.27,257.80 271.77,257.27 272.28,256.74 272.80,256.20 273.32,255.67 273.84,255.14 274.37,254.60 274.90,254.07 275.44,253.53 275.98,253.00 276.53,252.46 277.08,251.93 277.64,251.39 278.20,250.85 278.76,250.32 279.33,249.78 279.91,249.24 280.49,248.70 281.07,248.16 281.66,247.62 282.25,247.08 282.85,246.54 283.45,246.00 284.06,245.45 284.67,244.91 285.29,244.37 285.91,243.82 286.54,243.28 287.17,242.74 287.80,242.19 288.44,241.65 289.09,241.10 289.74,240.55 290.39,240.01 291.05,239.46 291.71,238.91 292.38,238.36 293.05,237.81 293.73,237.26 294.41,236.71 295.10,236.16 295.79,235.61 296.48,235.06 297.18,234.51 297.89,233.96 298.60,233.40 299.31,232.85 300.03,232.30 300.75,231.74 301.48,231.19 302.21,230.63 302.95,230.08 303.69,229.52 304.44,228.96 305.19,228.41 305.95,227.85 306.71,227.29 307.47,226.73 308.24,226.17 309.02,225.61 309.79,225.05 310.58,224.49 311.37,223.93 312.16,223.37 312.96,222.81 313.76,222.25 314.57,221.68 315.38,221.12 316.19,220.56 317.02,219.99 317.84,219.43 318.67,218.86 319.51,218.30 320.35,217.73 321.19,217.16 322.04,216.60 322.89,216.03 323.75,215.46 324.61,214.89 325.48,214.32 326.35,213.76 327.23,213.19 328.11,212.62 328.99,212.04 329.89,211.47 330.78,210.90 331.68,210.33 332.58,209.76 333.49,209.18 334.41,208.61 335.33,208.04 336.25,207.46 337.18,206.89 338.11,206.31 339.05,205.73 339.99,205.16 340.93,204.58 341.88,204.00 342.84,203.43 343.80,202.85 344.77,202.27 345.73,201.69 346.71,201.11 347.69,200.53 348.67,199.95 349.66,199.37 350.65,198.79 351.65,198.21 352.65,197.62 353.66,197.04 354.67,196.46 355.68,195.87 356.71,195.29 357.73,194.71 358.76,194.12 359.79,193.53 360.83,192.95 361.88,192.36 362.93,191.78 363.98,191.19 365.04,190.60 366.10,190.01 367.17,189.42 368.24,188.83 369.31,188.25 370.40,187.66 371.48,187.06 372.57,186.47 373.67,185.88 374.77,185.29 375.87,184.70 376.98,184.11 378.09,183.51 379.21,182.92 380.33,182.32 381.46,181.73 382.59,181.14 383.73,180.54 384.87,179.94 386.02,179.35 387.17,178.75 388.32,178.15 389.48,177.56 390.65,176.96 391.81,176.36 392.99,175.76 394.17,175.16 395.35,174.56 396.54,173.96 397.73,173.36 398.93,172.76 400.13,172.16 401.34,171.56 402.55,170.95 403.76,170.35 404.98,169.75 406.21,169.14 407.44,168.54 408.67,167.94 409.91,167.33 411.15,166.73 412.40,166.12 413.65,165.51 414.91,164.91 416.17,164.30 417.44,163.69 418.71,163.08 419.99,162.48 421.27,161.87 422.55,161.26 423.84,160.65 425.14,160.04 426.44,159.43 427.74,158.82 429.05,158.20 430.36,157.59 431.68,156.98 433.00,156.37 434.33,155.75 435.66,155.14 437.00,154.53 438.34,153.91 439.68,153.30 441.03,152.68 442.39,152.07 443.75,151.45 445.11,150.83 446.48,150.22 447.85,149.60 449.23,148.98 450.62,148.36 452.00,147.74 453.39,147.12 454.79,146.50 456.19,145.88 457.60,145.26 459.01,144.64 460.42,144.02 461.84,143.40 463.27,142.78 464.70,142.16 466.13,141.53 467.57,140.91 469.01,140.29 470.46,139.66 471.91,139.04 473.37,138.41 474.83,137.79 476.30,137.16 477.77,136.53 479.25,135.91 480.73,135.28 482.21,134.65 483.70,134.03 485.19,133.40 486.69,132.77 488.20,132.14 489.70,131.51 491.22,130.88 492.73,130.25 494.26,129.62 495.78,128.99 497.31,128.36 498.85,127.72 500.39,127.09 501.94,126.46 503.49,125.83 505.04,125.19 506.60,124.56 508.16,123.92 509.73,123.29 511.31,122.65 512.88,122.02 514.47,121.38 516.05,120.74 517.64,120.11 519.24,119.47 520.84,118.83 522.45,118.19 524.06,117.56 525.67,116.92 527.29,116.28 528.92,115.64 530.55,115.00 532.18,114.36 533.82,113.72 535.46,113.08 537.11,112.43 538.76,111.79 540.42,111.15 542.08,110.51 543.74,109.86 545.41,109.22 547.09,108.58 548.77,107.93 550.45,107.29 552.14,106.64 553.84,106.00 555.54,105.35 557.24,104.70 558.95,104.06 560.66,103.41 562.38,102.76 564.10,102.11 565.82,101.46 567.56,100.82 569.29,100.17 571.03,99.52 572.78,98.87 574.53,98.22 576.28,97.57 578.04,96.91 579.80,96.26 581.57,95.61 583.34,94.96 585.12,94.31 586.90,93.65 588.69,93.00 590.48,92.35 592.28,91.69 594.08,91.04 595.88,90.38 597.69,89.73 599.51,89.07 601.33,88.41 603.15,87.76 604.98,87.10 606.81,86.44 608.65,85.79 610.49,85.13 612.34,84.47 614.19,83.81 616.05,83.15 617.91,82.49 619.78,81.83 621.65,81.17 623.52,80.51 625.40,79.85 627.28,79.19 629.17,78.53 631.07,77.86 632.96,77.20 634.87,76.54 636.78,75.88 638.69,75.21 640.60,74.55 642.53,73.88 644.45,73.22 646.38,72.55 648.32,71.89 650.26,71.22 652.20,70.55 654.15,69.89 656.11,69.22 658.06,68.55 660.03,67.89 662.00,67.22 663.97,66.55 665.94,65.88 667.93,65.21 669.91,64.54 671.90,63.87 673.90,63.20 675.90,62.53" stroke="#ff0000" stroke-width="3.8" stroke-linejoin="round" stroke-linecap="round"/>
</g>
<g opacity="0.999" style="font-kerning:none" font-family="'Liberation Sans', sans-serif" font-size="23" fill="#000">
<text x="210.00" y="96.62" text-anchor="end">2.75</text>
<text x="210.00" y="159.75" text-anchor="end">2.5</text>
<text x="210.00" y="222.87" text-anchor="end">2.25</text>
<text x="210.00" y="286.00" text-anchor="end">2.</text>
<text x="244.75" y="363.30" text-anchor="middle">10.</text>
<text x="331.12" y="363.30" text-anchor="middle">10.1</text>
<text x="417.49" y="363.30" text-anchor="middle">10.2</text>
<text x="503.86" y="363.30" text-anchor="middle">10.3</text>
<text x="590.23" y="363.30" text-anchor="middle">10.4</text>
<text x="676.60" y="363.30" text-anchor="middle">10.5</text>
<text x="451.30" y="39.15" text-anchor="middle">Teff <tspan font-family="'Liberation Serif', serif">(</tspan>10, 30 and 50 K<tspan font-family="'Liberation Serif', serif">)</tspan></text>
<text x="432.60" y="389.20">M</text>
<g stroke="#000" fill="none"><circle cx="461.20" cy="383.30" r="7.25" stroke-width="1.3"/><path d="M453.95 383.30 h14.50 M461.20 376.05 v14.50" stroke-width="1.1"/></g>
<text transform="translate(148.00,207.60) rotate(-90)">R</text>
<g stroke="#000" fill="none"><circle cx="142.10" cy="182.00" r="7.25" stroke-width="1.3"/><path d="M134.85 182.00 h14.50 M142.10 174.75 v14.50" stroke-width="1.1"/></g>
</g>
<path d="M229.31 360.58H234.54V364.30H229.31Z M236.57 360.58H241.63V364.30H236.57Z" fill="#fff"/><path d="M309.29 360.58H314.52V364.30H309.29Z M316.55 360.58H321.61V364.30H316.55Z" fill="#fff"/><path d="M341.26 360.58H346.49V364.30H341.26Z M348.52 360.58H353.57V364.30H348.52Z" fill="#fff"/><path d="M395.66 360.58H400.89V364.30H395.66Z M402.92 360.58H407.98V364.30H402.92Z" fill="#fff"/><path d="M482.03 360.58H487.26V364.30H482.03Z M489.29 360.58H494.35V364.30H489.29Z" fill="#fff"/><path d="M568.40 360.58H573.63V364.30H568.40Z M575.66 360.58H580.72V364.30H575.66Z" fill="#fff"/><path d="M654.77 360.58H660.00V364.30H654.77Z M662.03 360.58H667.09V364.30H662.03Z" fill="#fff"/><path d="M393.65 36.43H398.88V40.15H393.65Z M400.91 36.43H405.97V40.15H400.91Z" fill="#fff"/>
</g>
</svg></body></html>
